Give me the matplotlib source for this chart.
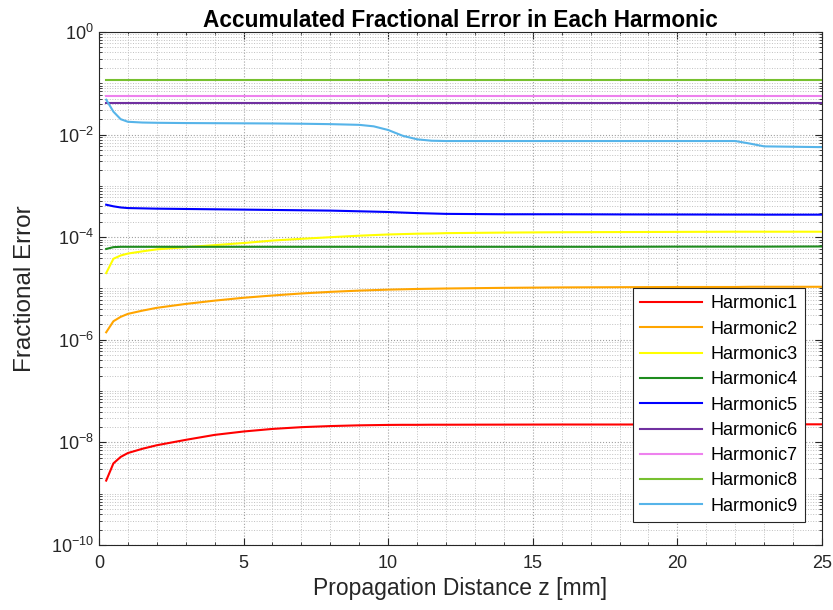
import matplotlib
matplotlib.use("Agg")
import matplotlib.pyplot as plt
from matplotlib.ticker import LogLocator, MultipleLocator, NullFormatter

plt.rcParams['font.family'] = ['Liberation Sans', 'DejaVu Sans']
plt.rcParams['mathtext.default'] = 'regular'

# propagation distance samples [mm]
z = [0.25, 0.5, 0.75, 1, 1.5, 2, 3, 4, 5, 6, 7, 8, 9, 9.5, 10, 10.5, 11,
     11.5, 12, 14, 16, 18, 20, 22, 22.5, 23, 25]

# accumulated fractional error per harmonic
h1 = [1.8e-9, 3.9e-9, 5.2e-9, 6.2e-9, 7.5e-9, 8.8e-9, 1.12e-8, 1.4e-8, 1.63e-8,
      1.83e-8, 1.98e-8, 2.08e-8, 2.15e-8, 2.17e-8, 2.19e-8, 2.2e-8, 2.2e-8,
      2.21e-8, 2.21e-8, 2.22e-8, 2.23e-8, 2.23e-8, 2.24e-8, 2.24e-8, 2.24e-8,
      2.25e-8, 2.25e-8]
h2 = [1.4e-6, 2.3e-6, 2.8e-6, 3.2e-6, 3.7e-6, 4.2e-6, 5.0e-6, 5.8e-6, 6.6e-6,
      7.3e-6, 8.0e-6, 8.6e-6, 9.1e-6, 9.3e-6, 9.5e-6, 9.65e-6, 9.8e-6,
      9.9e-6, 1.0e-5, 1.03e-5, 1.05e-5, 1.06e-5, 1.07e-5, 1.07e-5, 1.08e-5,
      1.08e-5, 1.08e-5]
h3 = [2.0e-5, 3.8e-5, 4.4e-5, 4.8e-5, 5.3e-5, 5.8e-5, 6.4e-5, 7.0e-5, 7.7e-5,
      8.6e-5, 9.3e-5, 1.0e-4, 1.07e-4, 1.1e-4, 1.13e-4, 1.15e-4, 1.17e-4,
      1.18e-4, 1.2e-4, 1.23e-4, 1.25e-4, 1.26e-4, 1.27e-4, 1.28e-4, 1.28e-4,
      1.28e-4, 1.28e-4]
h4 = [5.9e-5, 6.4e-5, 6.5e-5, 6.5e-5, 6.5e-5, 6.5e-5, 6.5e-5, 6.5e-5, 6.5e-5,
      6.5e-5, 6.5e-5, 6.5e-5, 6.5e-5, 6.5e-5, 6.5e-5, 6.5e-5, 6.5e-5,
      6.5e-5, 6.5e-5, 6.5e-5, 6.5e-5, 6.5e-5, 6.55e-5, 6.55e-5, 6.55e-5,
      6.55e-5, 6.6e-5]
h5 = [4.3e-4, 4.0e-4, 3.8e-4, 3.7e-4, 3.65e-4, 3.6e-4, 3.55e-4, 3.5e-4, 3.45e-4,
      3.4e-4, 3.35e-4, 3.3e-4, 3.2e-4, 3.15e-4, 3.1e-4, 3.02e-4, 2.95e-4,
      2.9e-4, 2.85e-4, 2.8e-4, 2.8e-4, 2.78e-4, 2.77e-4, 2.76e-4, 2.76e-4,
      2.75e-4, 2.75e-4]
h6 = [0.0418] * len(z)
h7 = [0.0572] * len(z)
h8 = [0.117] * len(z)
h9 = [0.048, 0.028, 0.020, 0.0178, 0.0172, 0.0170, 0.0168, 0.0167, 0.0166,
      0.0165, 0.0163, 0.0160, 0.0155, 0.0145, 0.0123, 0.0095, 0.0081,
      0.0076, 0.0075, 0.0075, 0.0075, 0.0075, 0.0075, 0.0075, 0.0067,
      0.0059, 0.0057]

series = [h1, h2, h3, h4, h5, h6, h7, h8, h9]
names = ['Harmonic%d' % i for i in range(1, 10)]
colors = ['#ff0000', '#ffa500', '#ffff00', '#1e8c1e', '#0000ff',
          '#7030a0', '#ee82ee', '#77c030', '#56b4e9']

fig = plt.figure(figsize=(8.33, 6.10), dpi=100)
ax = fig.add_axes([0.1188, 0.1066, 0.868, 0.8409])

for y, name, c in zip(series, names, colors):
    ax.semilogy(z, y, color=c, linewidth=1.5, label=name)

ax.set_xlim(0, 25)
ax.set_ylim(1e-10, 1e0)
ax.set_xticks([0, 5, 10, 15, 20, 25])
ax.xaxis.set_minor_locator(MultipleLocator(1))
ax.set_yticks([1e-10, 1e-8, 1e-6, 1e-4, 1e-2, 1e0])
ax.yaxis.set_minor_locator(LogLocator(base=10, subs=range(1, 10), numticks=100))
ax.yaxis.set_minor_formatter(NullFormatter())

ax.grid(which='major', linestyle=':', color='#a0a0a0', linewidth=0.8)
ax.grid(which='minor', linestyle=':', color='#c0c0c0', linewidth=0.7)
ax.set_axisbelow(True)

ax.tick_params(which='both', direction='in', top=True, right=True,
               colors='#262626', labelsize=13)
ax.tick_params(axis='x', which='major', pad=7)
ax.tick_params(which='major', length=5)
ax.tick_params(which='minor', length=2.5)
for s in ax.spines.values():
    s.set_color('#262626')

ax.set_xlabel('Propagation Distance z [mm]', fontsize=16.5, color='#262626',
              labelpad=4)
ax.set_ylabel('Fractional Error', fontsize=17.5, color='#262626', labelpad=11)
ax.set_title('Accumulated Fractional Error in Each Harmonic',
             fontsize=16.3, fontweight='bold', pad=3)

leg = ax.legend(loc='lower right', bbox_to_anchor=(0.9765, 0.0448),
                borderaxespad=0, fontsize=13, fancybox=False, framealpha=1,
                edgecolor='#262626', handlelength=3.4, handletextpad=0.5,
                labelspacing=0.46, borderpad=0.4)
leg.get_frame().set_linewidth(0.8)

plt.savefig('out.png', dpi=100)
